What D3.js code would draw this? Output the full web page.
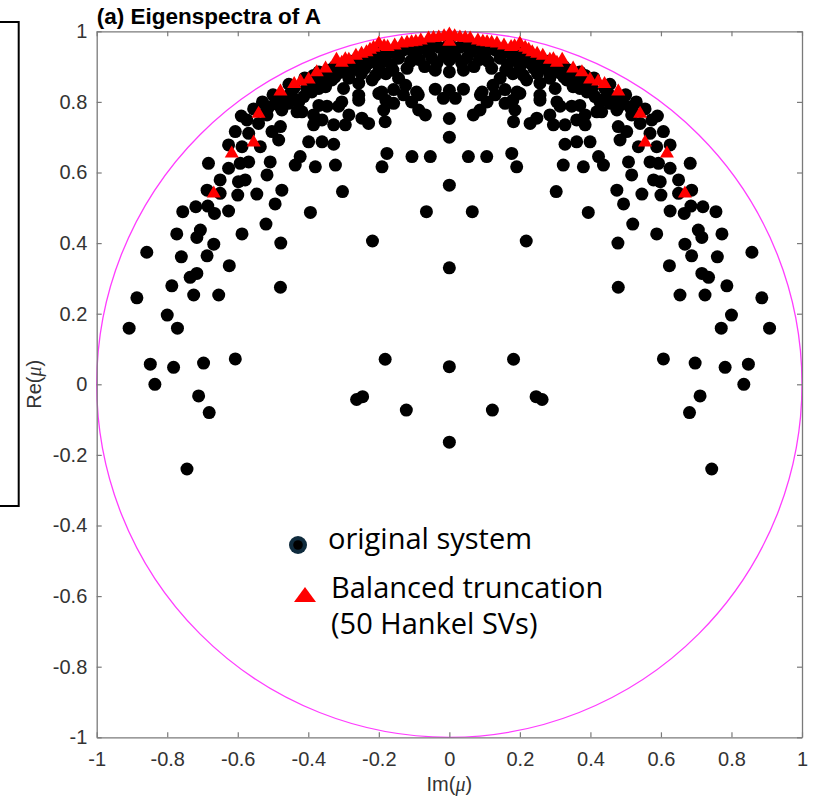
<!DOCTYPE html>
<html>
<head>
<meta charset="utf-8">
<script src="https://cdn.jsdelivr.net/npm/d3@7"></script>
<style>
  html, body { margin: 0; padding: 0; background: #fff; }
  svg { display: block; }
</style>
</head>
<body>
<div id="chart"></div>
<script>
// axis ticks
const tickValues = [-1, -0.8, -0.6, -0.4, -0.2, 0, 0.2, 0.4, 0.6, 0.8, 1];
const tickLabels = ["-1", "-0.8", "-0.6", "-0.4", "-0.2", "0", "0.2", "0.4", "0.6", "0.8", "1"];

// original system: eigenvalues on the real axis (Im = 0), Re values
const origReal = [-0.164, 0.05, 0.33, 0.564, 0.70, 0.753, 0.833, 0.885, 0.918, 0.947, 0.97];

// original system: complex eigenvalues [Im, Re] with Im > 0 (conjugates drawn too)
const origPairs = [
  [0.122, -0.073], [0.182, 0.071], [0.246, -0.035], [0.263, -0.043],
  [0.607, 0.072], [0.697, 0.06], [0.782, 0.048], [0.848, 0.057], [0.835, 0.0],
  [0.711, -0.033], [0.681, -0.08], [0.744, -0.24],
  [0.908, 0.159], [0.886, 0.245], [0.858, 0.374], [0.80, 0.196], [0.771, 0.159],
  [0.479, 0.275], [0.654, 0.253], [0.725, 0.253], [0.787, 0.279], [0.716, 0.314],
  [0.735, 0.303], [0.624, 0.336], [0.687, 0.364], [0.76, 0.361], [0.668, 0.397],
  [0.478, 0.40], [0.588, 0.426], [0.706, 0.437], [0.716, 0.416], [0.773, 0.426],
  [0.52, 0.454], [0.394, 0.487], [0.494, 0.511], [0.626, 0.491], [0.666, 0.484],
  [0.685, 0.505], [0.719, 0.503], [0.756, 0.489], [0.218, 0.406], [0.065, 0.489],
  [0.303, 0.546],
  [0.475, 0.55], [0.546, 0.539], [0.60, 0.536], [0.65, 0.541], [0.687, 0.55],
  [0.517, 0.593], [0.579, 0.579], [0.598, 0.574], [0.65, 0.579], [0.508, 0.63],
  [0.569, 0.63], [0.593, 0.626], [0.683, 0.626], [0.626, 0.612], [0.323, 0.621],
  [0.38, 0.616], [0.423, 0.645], [0.437, 0.621], [0.177, 0.654], [0.191, 0.616],
  [0.054, 0.645], [0.106, 0.645],
  [0.328, 0.735], [0.328, 0.68], [0.361, 0.687], [0.399, 0.687], [0.385, 0.735],
  [0.479, 0.73], [0.484, 0.692], [0.503, 0.716], [0.541, 0.739], [0.574, 0.749],
  [0.607, 0.716], [0.569, 0.711], [0.588, 0.673], [0.536, 0.673], [0.626, 0.678],
  [0.229, 0.739], [0.248, 0.754], [0.295, 0.735], [0.068, 0.763], [0.087, 0.777],
  [0.182, 0.744],
  [0.314, 0.788], [0.347, 0.788], [0.385, 0.763], [0.432, 0.772], [0.446, 0.815],
  [0.456, 0.796], [0.475, 0.777], [0.512, 0.786], [0.517, 0.763], [0.18, 0.805],
  [0.20, 0.824], [0.257, 0.805], [0.107, 0.80], [0.158, 0.796], [0.186, 0.777],
  [0.285, 0.763], [0.361, 0.749], [0.305, 0.80], [0.37, 0.79], [0.418, 0.772],
  [0.484, 0.791], [0.521, 0.772], [0.13, 0.82], [0.088, 0.82], [0.017, 0.81],
  [0.04, 0.836], [0.04, 0.89], [0.093, 0.828], [0.124, 0.847], [0.144, 0.867],
  [0.158, 0.835], [0.18, 0.88], [0.209, 0.876], [0.219, 0.862], [0.257, 0.853],
  [0.285, 0.867], [0.30, 0.838], [0.257, 0.819], [0.192, 0.828], [0.333, 0.862],
  [0.351, 0.843], [0.37, 0.838], [0.39, 0.828], [0.413, 0.815], [0.427, 0.80],
  [0.035, 0.91], [0.059, 0.941], [0.10, 0.932], [0.144, 0.924], [0.186, 0.918],
  [0.229, 0.91], [0.27, 0.896], [0.314, 0.882], [0.356, 0.868], [0.399, 0.853],
  [0.44, 0.84], [0.03, 0.955], [0.081, 0.953], [0.13, 0.947], [0.172, 0.938],
  [0.215, 0.93], [0.257, 0.918], [0.30, 0.904], [0.342, 0.89], [0.385, 0.875],
  [0.07, 0.90], [0.12, 0.895], [0.16, 0.89], [0.25, 0.88], [0.47, 0.81],
  [0.015, 0.93], [0.05, 0.925], [0.085, 0.92], [0.11, 0.915], [0.165, 0.905],
  [0.20, 0.90], [0.24, 0.895], [0.285, 0.88], [0.325, 0.87], [0.365, 0.855],
  [0.405, 0.84], [0.45, 0.825], [0.49, 0.805], [0.055, 0.96], [0.105, 0.955],
  [0.15, 0.95], [0.195, 0.945], [0.24, 0.93], [0.28, 0.915], [0.325, 0.90],
  [0.37, 0.885], [0.41, 0.868], [0.455, 0.85], [0.50, 0.82], [0.53, 0.80],
  [0.555, 0.78], [0.59, 0.76]
];

// balanced truncation (50 Hankel SVs)
const btReal = [0.995, 0.975];
const btPairs = [
  [0.015, 0.99], [0.030, 0.987], [0.045, 0.985], [0.059, 0.984], [0.081, 0.978],
  [0.095, 0.975], [0.107, 0.973], [0.12, 0.972], [0.135, 0.970], [0.155, 0.964],
  [0.175, 0.96], [0.185, 0.962], [0.20, 0.970], [0.215, 0.958], [0.225, 0.952],
  [0.235, 0.945], [0.249, 0.941], [0.265, 0.935], [0.285, 0.924], [0.295, 0.925],
  [0.305, 0.915], [0.32, 0.924], [0.351, 0.899], [0.376, 0.888], [0.399, 0.868],
  [0.422, 0.862], [0.44, 0.855], [0.479, 0.834], [0.541, 0.771], [0.555, 0.689],
  [0.617, 0.658], [0.668, 0.545]
];

// legend text
const legendOriginal = "original system";
const legendBT = ["Balanced truncation", "(50 Hankel SVs)"];

const withConjugates = (real, pairs) =>
  real.map(re => [0, re]).concat(pairs.flatMap(([im, re]) => [[im, re], [-im, re]]));

const origPoints = withConjugates(origReal, origPairs);
const btPoints = withConjugates(btReal, btPairs);

const width = 815, height = 799;
const margin = { left: 96.7, right: 13, top: 31.3, bottom: 61.7 };

const svg = d3.select("#chart").append("svg")
  .attr("width", width)
  .attr("height", height);

const x = d3.scaleLinear().domain([-1, 1]).range([margin.left, width - margin.right]);
const y = d3.scaleLinear().domain([-1, 1]).range([height - margin.bottom, margin.top]);

const axisFont = "'Liberation Sans', Arial, Helvetica, sans-serif";
const axisColor = "#7a7a7a";
const fmt = d => tickLabels[tickValues.indexOf(d)];

// cut-off box at the left edge
svg.append("rect")
  .attr("x", -10).attr("y", 22)
  .attr("width", 28.7).attr("height", 484)
  .attr("fill", "none")
  .attr("stroke", "#000")
  .attr("stroke-width", 2);

// unit circle
svg.append("ellipse")
  .attr("cx", x(0)).attr("cy", y(0))
  .attr("rx", x(1) - x(0)).attr("ry", y(0) - y(1))
  .attr("fill", "none")
  .attr("stroke", "#ff3dff")
  .attr("stroke-width", 1.3);

// axes (ticks inward, box on all sides)
function styleAxis(g) {
  g.selectAll(".domain").attr("stroke", axisColor).attr("stroke-width", 1.3);
  g.selectAll(".tick line").attr("stroke", axisColor).attr("stroke-width", 1.2);
  g.selectAll(".tick text")
    .attr("fill", "#333")
    .style("font-family", axisFont)
    .style("font-size", "20px");
}

svg.append("g")
  .attr("transform", `translate(0,${y(-1)})`)
  .call(d3.axisBottom(x).tickValues(tickValues).tickFormat(fmt).tickSizeInner(-5).tickSizeOuter(0).tickPadding(15))
  .call(styleAxis);

svg.append("g")
  .attr("transform", `translate(0,${y(1)})`)
  .call(d3.axisTop(x).tickValues(tickValues).tickFormat("").tickSizeInner(-5).tickSizeOuter(0))
  .call(styleAxis);

svg.append("g")
  .attr("transform", `translate(${x(-1)},0)`)
  .call(d3.axisLeft(y).tickValues(tickValues).tickFormat(fmt).tickSizeInner(-5).tickSizeOuter(0).tickPadding(9.4))
  .call(styleAxis);

svg.append("g")
  .attr("transform", `translate(${x(1)},0)`)
  .call(d3.axisRight(y).tickValues(tickValues).tickFormat("").tickSizeInner(-5).tickSizeOuter(0))
  .call(styleAxis);

// original system eigenvalues
svg.append("g")
  .selectAll("circle")
  .data(origPoints)
  .join("circle")
  .attr("cx", d => x(d[0]))
  .attr("cy", d => y(d[1]))
  .attr("r", 6.5)
  .attr("fill", "#000");

// balanced truncation eigenvalues
const tri = "M0,-6.5L7,5.5L-7,5.5Z";
svg.append("g")
  .selectAll("path")
  .data(btPoints)
  .join("path")
  .attr("d", tri)
  .attr("transform", d => `translate(${x(d[0])},${y(d[1])})`)
  .attr("fill", "#ff0000");

// title
svg.append("text")
  .attr("x", x(-1))
  .attr("y", 24)
  .style("font-family", axisFont)
  .style("font-size", "22.5px")
  .style("font-weight", "bold")
  .text("(a) Eigenspectra of A");

// axis labels
const xl = svg.append("text")
  .attr("x", x(0))
  .attr("y", 791)
  .attr("text-anchor", "middle")
  .attr("fill", "#333")
  .style("font-family", axisFont)
  .style("font-size", "20px");
xl.append("tspan").text("Im(");
xl.append("tspan").style("font-family", "'Liberation Serif', serif").style("font-style", "italic").text("μ");
xl.append("tspan").text(")");

const yl = svg.append("text")
  .attr("transform", `translate(41,${y(0)}) rotate(-90)`)
  .attr("text-anchor", "middle")
  .attr("fill", "#333")
  .style("font-family", axisFont)
  .style("font-size", "20px");
yl.append("tspan").text("Re(");
yl.append("tspan").style("font-family", "'Liberation Serif', serif").style("font-style", "italic").text("μ");
yl.append("tspan").text(")");

// legend (free annotation inside the axes)
const legendFont = "'Open Sans', 'Noto Sans', sans-serif";
const leg = svg.append("g");
leg.append("circle").attr("cx", 298).attr("cy", 545).attr("r", 9).attr("fill", "#0f2b3d");
leg.append("circle").attr("cx", 298).attr("cy", 545).attr("r", 4.8).attr("fill", "#000");
leg.append("text")
  .attr("x", 328).attr("y", 549)
  .style("font-family", legendFont).style("font-size", "29px")
  .attr("fill", "#000")
  .text(legendOriginal);

leg.append("path")
  .attr("d", "M305,587L316,602L294,602Z")
  .attr("fill", "#ff0000");
leg.selectAll("text.bt")
  .data(legendBT)
  .join("text")
  .attr("class", "bt")
  .attr("x", 331)
  .attr("y", (d, i) => 598 + i * 36)
  .style("font-family", legendFont).style("font-size", "29px")
  .attr("fill", "#000")
  .text(d => d);
</script>
</body>
</html>
